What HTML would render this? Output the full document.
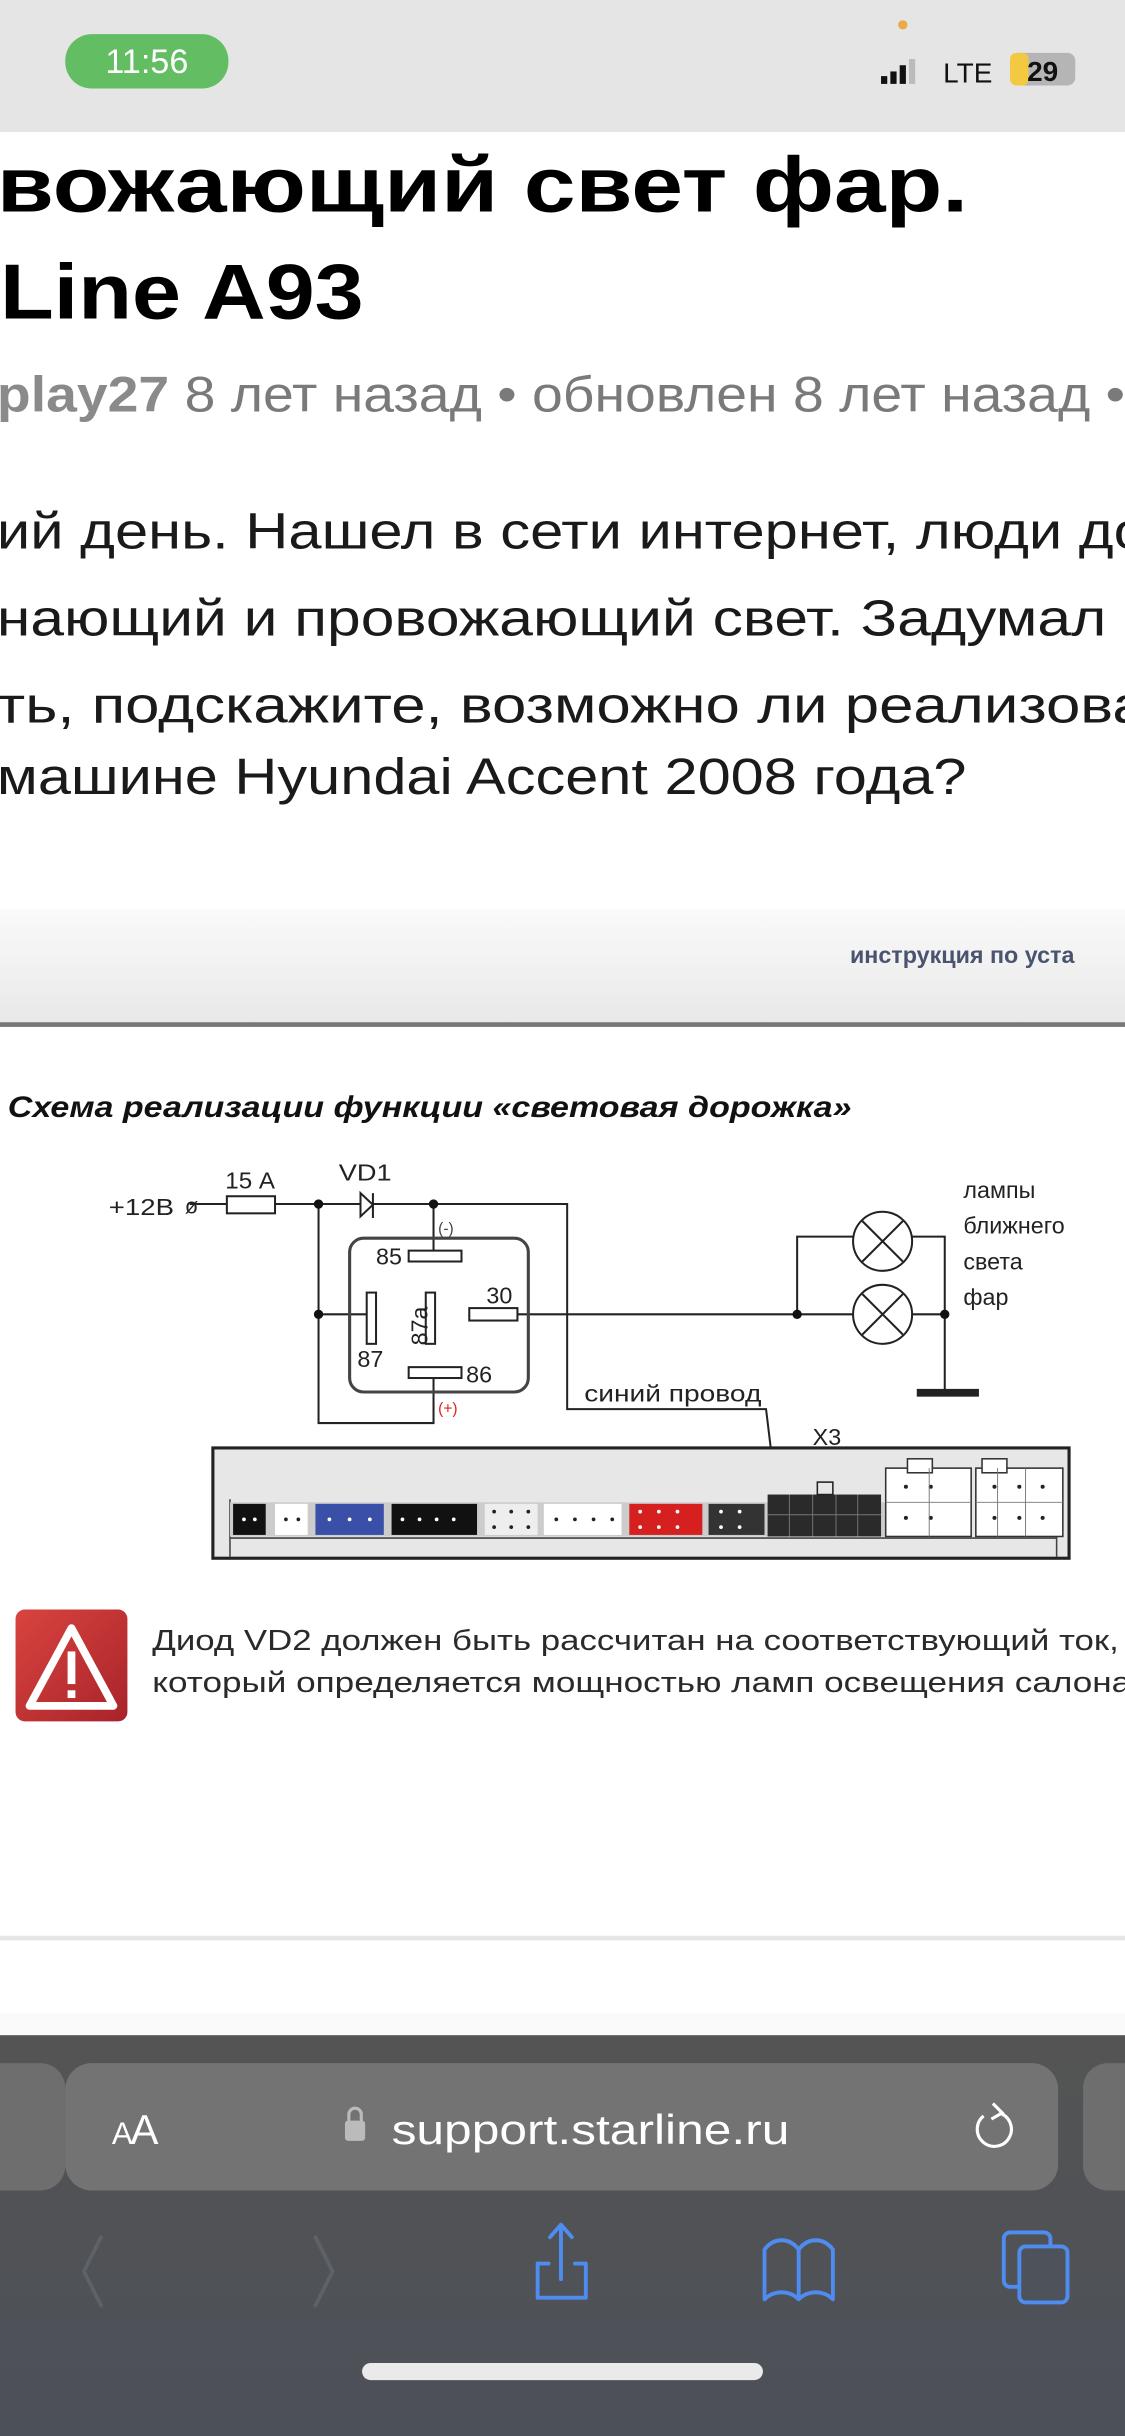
<!DOCTYPE html>
<html><head><meta charset="utf-8"><style>
html,body{margin:0;padding:0;background:#fff;}
svg{display:block}
</style></head><body>
<svg xmlns="http://www.w3.org/2000/svg" width="1125" height="2436" viewBox="0 0 724 1568" preserveAspectRatio="none" font-family="Liberation Sans, sans-serif">
<defs>
<linearGradient id="tb" x1="0" y1="0" x2="0" y2="1"><stop offset="0" stop-color="#545454"/><stop offset="1" stop-color="#4c5058"/></linearGradient>
<linearGradient id="band" x1="0" y1="0" x2="0" y2="1"><stop offset="0" stop-color="#fafafa"/><stop offset="1" stop-color="#e8e8e8"/></linearGradient>
<linearGradient id="warn" x1="0" y1="0" x2="1" y2="1"><stop offset="0" stop-color="#d9443f"/><stop offset="1" stop-color="#a8232a"/></linearGradient>
</defs>
<!-- status bar -->
<rect x="0" y="0" width="724" height="85" fill="#e5e5e5"/>
<rect x="42" y="22" width="105" height="35" rx="17" fill="#63bd63"/>
<text x="94.5" y="47" font-size="22" fill="#fff" text-anchor="middle">11:56</text>
<circle cx="581" cy="16" r="3" fill="#eba94a"/>
<rect x="567" y="49" width="4" height="5" fill="#111"/>
<rect x="573" y="46" width="4" height="8" fill="#111"/>
<rect x="579" y="42" width="4" height="12" fill="#111"/>
<rect x="585" y="38" width="4" height="16" fill="#bbb"/>
<text x="607" y="53" font-size="18" fill="#111">LTE</text>
<rect x="650" y="34" width="42" height="21" rx="5" fill="#b5b5b5"/>
<rect x="650" y="34" width="12" height="21" rx="4" fill="#f3c942"/>
<text x="671" y="52" font-size="18" font-weight="bold" fill="#111" text-anchor="middle">29</text>
<!-- title -->
<text x="-2" y="136" font-size="50" font-weight="bold" fill="#000" textLength="625" lengthAdjust="spacingAndGlyphs">вожающий свет фар.</text>
<text x="0" y="205" font-size="50" font-weight="bold" fill="#000" textLength="234" lengthAdjust="spacingAndGlyphs">Line A93</text>
<text x="-2" y="265" font-size="32" fill="#7a7a7a" textLength="726" lengthAdjust="spacingAndGlyphs"><tspan font-weight="bold" fill="#8a8a8a">play27</tspan> 8 лет назад • обновлен 8 лет назад •</text>
<!-- body -->
<g font-size="33" fill="#1a1a1a">
<text x="-2" y="353" textLength="740" lengthAdjust="spacingAndGlyphs">ий день. Нашел в сети интернет, люди до</text>
<text x="-2" y="409" textLength="714" lengthAdjust="spacingAndGlyphs">нающий и провожающий свет. Задумал</text>
<text x="-2" y="465" textLength="740" lengthAdjust="spacingAndGlyphs">ть, подскажите, возможно ли реализова</text>
<text x="-2" y="511" textLength="624" lengthAdjust="spacingAndGlyphs">машине Hyundai Accent 2008 года?</text>
</g>
<!-- embedded image band -->
<rect x="0" y="585" width="724" height="75" fill="url(#band)"/>
<text x="547" y="620" font-size="15" font-weight="bold" fill="#4a5470">инструкция по уста</text>
<rect x="0" y="658" width="724" height="3" fill="#777"/>
<!-- diagram -->
<text x="5" y="719" font-size="19" font-weight="bold" font-style="italic" fill="#111" textLength="543" lengthAdjust="spacingAndGlyphs">Схема реализации функции «световая дорожка»</text>
<g stroke="#222" stroke-width="1.3" fill="none">
<polyline points="122,775 365,775 365,907 493,907 500,965"/>
<polyline points="205,775 205,916 279,916 279,887"/>
<line x1="205" y1="846" x2="236" y2="846"/>
<line x1="279" y1="775" x2="279" y2="805"/>
<line x1="333" y1="846" x2="513" y2="846"/>
<polyline points="513,846 513,796 549,796"/>
<line x1="513" y1="846" x2="549" y2="846"/>
<polyline points="587,796 608,796 608,896"/>
<line x1="587" y1="846" x2="608" y2="846"/>
<rect x="146" y="770" width="31" height="11" fill="#fff"/>
<rect x="225" y="797" width="115" height="99" rx="9" stroke="#444" stroke-width="2"/>
<rect x="263" y="805" width="34" height="7" fill="#fff"/>
<rect x="236" y="832" width="6" height="33" fill="#fff"/>
<rect x="274" y="832" width="6" height="33" fill="#fff"/>
<rect x="302" y="842" width="31" height="8" fill="#fff"/>
<rect x="263" y="880" width="34" height="7" fill="#fff"/>
<circle cx="568" cy="799" r="19" fill="#fff"/>
<circle cx="568" cy="846" r="19" fill="#fff"/>
<path d="M555,786 L581,812 M581,786 L555,812 M555,833 L581,859 M581,833 L555,859"/>
<path d="M240,768 L240,784"/>
</g>
<path d="M232,768 L240,775.5 L232,783 Z" fill="#fff" stroke="#222" stroke-width="1.3"/>
<rect x="590" y="894" width="40" height="5" fill="#222"/>
<g fill="#111"><circle cx="205" cy="775" r="3"/><circle cx="279" cy="775" r="3"/><circle cx="205" cy="846" r="3"/><circle cx="513" cy="846" r="3"/><circle cx="608" cy="846" r="3"/></g>
<text x="119" y="781" font-size="14" fill="#222">ø</text>
<g font-size="15" fill="#222">
<text x="70" y="782" textLength="42" lengthAdjust="spacingAndGlyphs">+12В</text>
<text x="145" y="765" textLength="32" lengthAdjust="spacingAndGlyphs">15 А</text>
<text x="218" y="760" textLength="34" lengthAdjust="spacingAndGlyphs">VD1</text>
<text x="242" y="814">85</text>
<text x="313" y="839">30</text>
<text x="230" y="880">87</text>
<text x="300" y="890">86</text>
<text transform="translate(275,866) rotate(-90)" font-size="15">87a</text>
<text x="620" y="771">лампы</text>
<text x="620" y="794">ближнего</text>
<text x="620" y="817">света</text>
<text x="620" y="840">фар</text>
<text x="376" y="902" textLength="114" lengthAdjust="spacingAndGlyphs">синий провод</text>
<text x="523" y="930">X3</text>
</g>
<text x="282" y="794" font-size="10" fill="#444">(-)</text>
<text x="282" y="910" font-size="10" fill="#d22">(+)</text>
<!-- control unit -->
<rect x="137" y="932" width="551" height="71" fill="#e7e7e7" stroke="#222" stroke-width="2"/>
<line x1="148" y1="990" x2="680" y2="990" stroke="#444" stroke-width="1"/>
<line x1="148" y1="965" x2="148" y2="1002" stroke="#444"/>
<line x1="680" y1="945" x2="680" y2="1002" stroke="#444"/>
<rect x="148" y="967" width="422" height="22" fill="#ccc"/>
<rect x="150" y="968" width="21" height="20" fill="#111"/>
<rect x="177" y="968" width="21" height="20" fill="#fff"/>
<rect x="203" y="968" width="44" height="20" fill="#3a4fa8"/>
<rect x="252" y="968" width="55" height="20" fill="#111"/>
<rect x="312" y="968" width="34" height="20" fill="#eee"/>
<rect x="350" y="968" width="50" height="20" fill="#fff"/>
<rect x="405" y="968" width="47" height="20" fill="#d62020"/>
<rect x="456" y="968" width="36" height="20" fill="#333"/>
<rect x="494" y="962" width="73" height="27" fill="#2a2a2a"/>
<rect x="526" y="954" width="10" height="8" fill="#e7e7e7" stroke="#222"/>
<rect x="570" y="945" width="55" height="44" fill="#fff" stroke="#333"/>
<rect x="628" y="945" width="56" height="44" fill="#fff" stroke="#333"/>
<rect x="584" y="939" width="16" height="9" fill="#fff" stroke="#333"/>
<rect x="632" y="939" width="16" height="9" fill="#fff" stroke="#333"/>
<g fill="#fff"><circle cx="157" cy="978" r="1.2"/><circle cx="164" cy="978" r="1.2"/><circle cx="259" cy="978" r="1.2"/><circle cx="270" cy="978" r="1.2"/><circle cx="281" cy="978" r="1.2"/><circle cx="292" cy="978" r="1.2"/><circle cx="212" cy="978" r="1.2"/><circle cx="225" cy="978" r="1.2"/><circle cx="238" cy="978" r="1.2"/><circle cx="412" cy="973" r="1.2"/><circle cx="424" cy="973" r="1.2"/><circle cx="436" cy="973" r="1.2"/><circle cx="412" cy="983" r="1.2"/><circle cx="424" cy="983" r="1.2"/><circle cx="436" cy="983" r="1.2"/><circle cx="464" cy="973" r="1.2"/><circle cx="476" cy="973" r="1.2"/><circle cx="464" cy="983" r="1.2"/><circle cx="476" cy="983" r="1.2"/></g>
<g fill="#222"><circle cx="184" cy="978" r="1.2"/><circle cx="192" cy="978" r="1.2"/><circle cx="318" cy="973" r="1.2"/><circle cx="329" cy="973" r="1.2"/><circle cx="340" cy="973" r="1.2"/><circle cx="318" cy="983" r="1.2"/><circle cx="329" cy="983" r="1.2"/><circle cx="340" cy="983" r="1.2"/><circle cx="358" cy="978" r="1.2"/><circle cx="370" cy="978" r="1.2"/><circle cx="382" cy="978" r="1.2"/><circle cx="394" cy="978" r="1.2"/><circle cx="583" cy="957" r="1.3"/><circle cx="599" cy="957" r="1.3"/><circle cx="583" cy="977" r="1.3"/><circle cx="599" cy="977" r="1.3"/><circle cx="640" cy="957" r="1.3"/><circle cx="656" cy="957" r="1.3"/><circle cx="671" cy="957" r="1.3"/><circle cx="640" cy="977" r="1.3"/><circle cx="656" cy="977" r="1.3"/><circle cx="671" cy="977" r="1.3"/></g>
<g stroke="#777" stroke-width="0.6" fill="none"><path d="M508,962 V989 M523,962 V989 M538,962 V989 M552,962 V989 M494,975 H567"/><path d="M598,945 V989 M570,967 H625 M642,945 V989 M660,945 V989 M628,967 H684"/></g>
<!-- warning -->
<rect x="10" y="1036" width="72" height="72" rx="6" fill="url(#warn)"/>
<path d="M46,1048 L73,1098 L19,1098 Z" fill="none" stroke="#fff" stroke-width="5" stroke-linejoin="round"/>
<rect x="43.5" y="1063" width="5" height="21" fill="#fff"/>
<rect x="43.5" y="1088" width="5" height="5" fill="#fff"/>
<g font-size="18.5" fill="#2a2a2a">
<text x="98" y="1062" textLength="622" lengthAdjust="spacingAndGlyphs">Диод VD2 должен быть рассчитан на соответствующий ток,</text>
<text x="98" y="1089" textLength="630" lengthAdjust="spacingAndGlyphs">который определяется мощностью ламп освещения салона</text>
</g>
<rect x="0" y="1246" width="724" height="3" fill="#e5e5e5"/>
<!-- toolbar -->
<rect x="0" y="1296" width="724" height="14" fill="#fafafa"/>
<rect x="0" y="1310" width="724" height="258" fill="url(#tb)"/>
<rect x="-20" y="1328" width="62" height="82" rx="16" fill="#6e6e6e"/>
<rect x="42" y="1328" width="639" height="82" rx="17" fill="#737373"/>
<rect x="697" y="1328" width="60" height="82" rx="16" fill="#6e6e6e"/>
<text x="72" y="1380" font-size="20" fill="#fff">A</text><text x="84" y="1380" font-size="27" fill="#fff">A</text>
<rect x="222" y="1365" width="13" height="13" rx="2" fill="#bbb"/>
<path d="M224.5,1366 V1361 A4,4 0 0 1 232.5,1361 V1366" fill="none" stroke="#bbb" stroke-width="2"/>
<text x="252" y="1380" font-size="27" fill="#fff" textLength="256" lengthAdjust="spacingAndGlyphs">support.starline.ru</text>
<path d="M633,1362 A11,11 0 1 0 643,1360" fill="none" stroke="#fff" stroke-width="2"/>
<path d="M639,1354 L645,1360 L638,1364" fill="none" stroke="#fff" stroke-width="2"/>
<g fill="none" stroke-width="2.5" stroke-linecap="round" stroke-linejoin="round">
<path d="M65,1440 L54,1462 L65,1484" stroke="#5d6168"/>
<path d="M203,1440 L214,1462 L203,1484" stroke="#5d6168"/>
<g stroke="#4f8cf0">
<path d="M353,1457 H346 V1479 H377 V1457 H370"/><path d="M361,1467 V1432 M354,1440 L361,1432 L368,1440"/>
<path d="M514,1480 C508,1474 498,1474 492,1480 V1448 C498,1440 508,1440 514,1448 V1480 M514,1480 C520,1474 530,1474 536,1480 V1448 C530,1440 520,1440 514,1448"/>
<rect x="646" y="1437" width="30" height="35" rx="4"/><rect x="656" y="1446" width="31" height="36" rx="4" fill="#4e535b"/>
</g></g>
<rect x="233" y="1521" width="258" height="11" rx="5.5" fill="#eaeaea"/>
</svg>
</body></html>
